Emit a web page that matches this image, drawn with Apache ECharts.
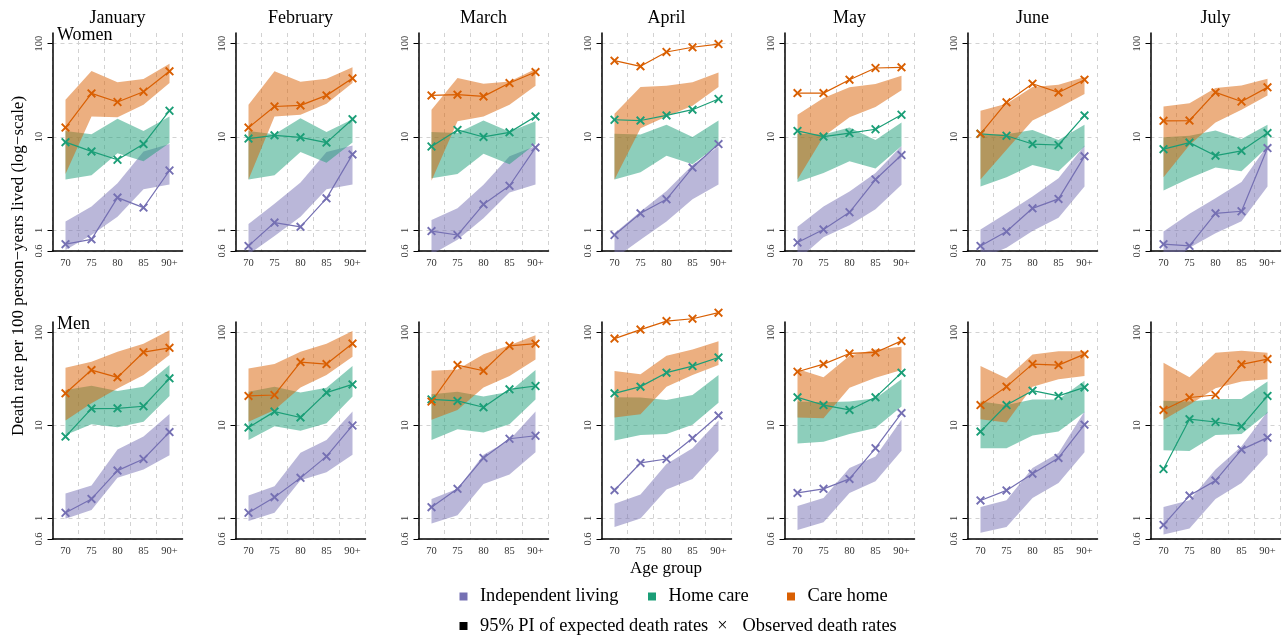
<!DOCTYPE html>
<html>
<head>
<meta charset="utf-8">
<script src="https://cdn.jsdelivr.net/npm/echarts@6/dist/echarts.min.js"></script>
<style>
html,body{margin:0;padding:0;background:#fff;}
#chart{width:1287px;height:635px;}
</style>
</head>
<body>
<div id="chart"></div>
<script>
// ---------------- DATA ----------------
const ages = ['70', '75', '80', '85', '90+'];
const months = ['January', 'February', 'March', 'April', 'May', 'June', 'July'];
const yTicks = [0.6, 1, 10, 100];
const groupNames = ['Independent living', 'Home care', 'Care home'];

// Women — Independent living
const womenIndepObs = [
  [0.71, 0.80, 2.24, 1.75, 4.37], [0.68, 1.21, 1.09, 2.2, 6.5], [0.98, 0.89, 1.9, 3.0, 7.7],
  [0.89, 1.52, 2.15, 4.7, 8.4], [0.74, 1.02, 1.56, 3.5, 6.4], [0.68, 0.97, 1.72, 2.17, 6.2],
  [0.71, 0.68, 1.52, 1.6, 7.6]];
const womenIndepLo = [
  [0.615, 0.89, 1.4, 2.75, 3.1], [0.55, 0.87, 1.4, 2.75, 3.1], [0.55, 0.79, 1.35, 2.54, 3.1],
  [0.5, 0.79, 1.24, 2.15, 3.1], [0.48, 0.84, 1.13, 1.68, 3.07], [0.5, 0.65, 0.98, 1.36, 2.94],
  [0.37, 0.65, 0.93, 1.25, 2.94]];
const womenIndepHi = [
  [1.24, 1.8, 3.2, 7.0, 8.4], [1.17, 1.92, 3.25, 6.9, 8.1], [1.29, 1.72, 3.07, 6.2, 8.0],
  [0.93, 1.59, 2.64, 5.0, 7.9], [1.09, 1.8, 2.6, 4.1, 8.0], [1.02, 1.52, 2.3, 3.6, 8.1],
  [0.97, 1.5, 2.2, 3.3, 8.1]];
// Women — Home care
const womenHomeObs = [
  [8.8, 7.0, 5.7, 8.4, 19.1], [9.6, 10.4, 9.9, 8.7, 15.5], [7.9, 11.9, 10, 11.2, 16.6],
  [15.3, 15, 17, 19.6, 25.5], [11.6, 10.1, 11, 12.1, 17.3], [10.8, 10.3, 8.4, 8.2, 17.0],
  [7.4, 8.7, 6.3, 7.1, 11.0]];
const womenHomeLo = [
  [3.5, 3.9, 6.7, 5.5, 8.6], [3.5, 3.9, 6.9, 5.3, 8.7], [3.6, 4.0, 6.6, 5.1, 8.4],
  [3.5, 4.2, 6.3, 5.1, 8.2], [3.3, 4.1, 5.5, 4.6, 8.0], [2.94, 3.7, 5.0, 4.3, 7.9],
  [2.67, 3.6, 4.7, 4.3, 7.8]];
const womenHomeHi = [
  [11.6, 10.7, 15.7, 11.6, 16.6], [11.6, 10.7, 15.9, 11.3, 15.5], [11.3, 11, 15, 11.4, 14.7],
  [10.8, 10.6, 13.5, 10, 15], [10.8, 10.6, 12.6, 9.3, 14.3], [10.6, 10.7, 11.9, 9.3, 13.5],
  [9.9, 10.3, 11.7, 9.5, 13.5]];
// Women — Care home
const womenCareObs = [
  [12.6, 29.3, 23.7, 30.5, 50.5], [12.6, 21.2, 21.8, 27.9, 42.5], [27.9, 28.4, 27.2, 37.8, 49.6],
  [65.7, 57.1, 81.4, 91.4, 99], [29.5, 29.5, 41.1, 54.8, 55.7], [10.8, 23.5, 37.2, 30.0, 41.1],
  [14.9, 15.0, 30, 24, 34]];
const womenCareLo = [
  [4.0, 16.6, 16.3, 22.1, 37.8], [3.5, 16.6, 17.3, 22.7, 37.8], [3.4, 14.7, 16.6, 22.1, 35.4],
  [3.5, 12.4, 16.6, 21.6, 34.3], [3.5, 10.1, 16.3, 20.9, 31.6], [3.5, 7.3, 15, 20.4, 28.8],
  [3.7, 8.2, 14.3, 19.6, 27.9]];
const womenCareHi = [
  [25, 51, 38.5, 41.8, 61], [22.1, 50.5, 39, 42, 56], [19.6, 42.8, 37.2, 39.4, 53.5],
  [17.7, 34.3, 35.4, 38.5, 49.2], [17.3, 26.1, 34, 36.9, 45.4], [19.1, 22.7, 34.3, 36.3, 43.9],
  [21.2, 23, 33.4, 35.7, 42]];

// Men — Independent living
const menIndepObs = [
  [1.15, 1.62, 3.27, 4.36, 8.5], [1.15, 1.69, 2.73, 4.65, 10], [1.32, 2.08, 4.47, 7.2, 7.75],
  [2.01, 3.95, 4.36, 7.3, 12.8], [1.88, 2.08, 2.66, 5.7, 13.6], [1.56, 2.0, 3.03, 4.47, 10.2],
  [0.85, 1.76, 2.55, 5.5, 7.4]];
const menIndepLo = [
  [0.99, 1.23, 2.73, 3.35, 4.77], [0.94, 1.15, 2.57, 3.14, 4.85], [0.88, 1.08, 2.35, 2.96, 5.14],
  [0.81, 1.0, 2.05, 2.66, 5.36], [0.75, 0.91, 1.88, 2.51, 5.36], [0.70, 0.81, 1.66, 2.41, 5.14],
  [0.67, 0.78, 1.62, 2.41, 4.85]];
const menIndepHi = [
  [1.85, 2.26, 5.5, 7.6, 13.3], [1.76, 2.22, 5.1, 7.0, 14.1], [1.62, 2.08, 4.85, 7.0, 14.1],
  [1.44, 1.81, 3.85, 5.7, 11.3], [1.36, 1.66, 3.49, 4.65, 11.5], [1.33, 1.57, 3.49, 5.05, 14.1],
  [1.33, 1.57, 3.35, 5.96, 14.1]];
// Men — Home care
const menHomeObs = [
  [7.6, 15.2, 15.3, 16.1, 32.2], [9.5, 14.1, 12.2, 22.6, 27.7], [19.1, 18.4, 15.7, 24.5, 26.6],
  [22.2, 26.2, 37, 43.6, 54], [20.1, 16.6, 14.7, 20.1, 37], [8.6, 16.6, 23.7, 20.8, 25.7],
  [3.4, 11.7, 10.9, 9.8, 20.8]];
const menHomeLo = [
  [7.9, 10.3, 9.6, 11, 20.8], [7.0, 9.8, 8.8, 10.6, 20.5], [7.0, 9.1, 8.4, 10.3, 19.1],
  [6.9, 7.9, 8.1, 10.2, 17.6], [6.4, 6.7, 8.1, 9.4, 16.0], [5.7, 5.7, 7.8, 8.6, 13.9],
  [5.4, 5.3, 7.9, 8.1, 13.6]];
const menHomeHi = [
  [24.1, 26.8, 23.5, 26.2, 44.7], [23.1, 26.2, 22.6, 25.5, 43.6], [21.7, 23.1, 20.5, 23.1, 39.5],
  [20.1, 20, 18.8, 21.3, 34.9], [18.1, 17.8, 18.1, 19.6, 31.4], [18.1, 16.6, 19.1, 19.1, 30.4],
  [18.5, 18.1, 19.3, 19.3, 29.7]];
// Men — Care home
const menCareObs = [
  [22.2, 39.5, 33, 61.5, 68.5], [20.8, 21.3, 48.1, 45.8, 76.2], [18.1, 44.7, 38.8, 72, 76],
  [86.2, 107.7, 133, 141, 164], [37.9, 45.8, 59.6, 61.1, 81.4], [16.6, 26.2, 45.8, 44.7, 58.6],
  [14.7, 20, 21.3, 45.5, 51.9]];
const menCareLo = [
  [11.3, 17.4, 25, 34.9, 57.2], [11, 14.7, 25.7, 34.9, 54.8], [11.5, 14.7, 25.7, 34, 51.4],
  [12.2, 13.2, 26.2, 34.9, 44.7], [12.2, 12, 25.5, 32.7, 39.5], [11.7, 10.8, 26.2, 31.4, 34],
  [11.5, 16.7, 25.2, 29.7, 31.4]];
const menCareHi = [
  [41.8, 48.5, 62, 76, 106], [41.1, 45.8, 62, 76, 104], [38.8, 40.1, 58.6, 73, 93.6],
  [38.5, 35.5, 56.2, 65.7, 80.7], [40.5, 33, 56.2, 65.7, 70.2], [43.6, 32.2, 58.1, 63.1, 63.1],
  [47.3, 33, 60.5, 63.7, 60.5]];

// ---------------- STYLE ----------------
const FONT = '"Liberation Serif", "Times New Roman", serif';
const lineColors = ['#7570B3', '#1B9E77', '#D95F02'];
const bandColors = ['rgba(117,112,179,0.5)', 'rgba(27,158,119,0.5)', 'rgba(217,95,2,0.5)'];
const XMARK = 'path://M0,1.5L1.5,0L5,3.5L8.5,0L10,1.5L6.5,5L10,8.5L8.5,10L5,6.5L1.5,10L0,8.5L3.5,5Z';
const tickColor = '#333';
const gridLine = { show: true, lineStyle: { type: [4, 4], color: '#d2d2d2', width: 1 } };

const sexes = [
  { obs: [womenIndepObs, womenHomeObs, womenCareObs], lo: [womenIndepLo, womenHomeLo, womenCareLo], hi: [womenIndepHi, womenHomeHi, womenCareHi] },
  { obs: [menIndepObs, menHomeObs, menCareObs], lo: [menIndepLo, menHomeLo, menCareLo], hi: [menIndepHi, menHomeHi, menCareHi] }
];

const grids = [], xAxes = [], yAxes = [], series = [], graphics = [];
for (let s = 0; s < 2; s++) {
  for (let m = 0; m < 7; m++) {
    const g = s * 7 + m;
    const left = 52.5 + 183 * m;
    grids.push({ left: left, top: s ? 322 : 33, width: 130, height: s ? 217 : 218 });
    xAxes.push({
      type: 'category', gridIndex: g, data: ages, boundaryGap: true,
      axisLine: { onZero: false, lineStyle: { color: '#000', width: 1.5 } },
      axisTick: { length: 5, interval: 0, lineStyle: { color: '#000', width: 1 } },
      axisLabel: { interval: 0, fontSize: 10.5, margin: 7, color: tickColor, fontFamily: FONT },
      splitLine: Object.assign({ interval: 0 }, gridLine)
    });
    yAxes.push({
      type: 'log', logBase: 10, gridIndex: g, min: 0.6, max: 130,
      axisLine: { show: true, lineStyle: { color: '#000', width: 1.5 } },
      axisTick: { show: true, length: 5, customValues: yTicks, lineStyle: { color: '#000', width: 1 } },
      axisLabel: {
        customValues: yTicks, rotate: 90, fontSize: 10.5, margin: 8, color: tickColor, fontFamily: FONT,
        formatter: v => String(Math.round(v * 10) / 10)
      },
      splitLine: gridLine
    });
    for (let k = 0; k < 3; k++) {
      const lo = sexes[s].lo[k][m], hi = sexes[s].hi[k][m], obs = sexes[s].obs[k][m];
      const stackId = 'band' + g + '_' + k;
      series.push({
        type: 'line', name: groupNames[k], xAxisIndex: g, yAxisIndex: g, data: lo, stack: stackId,
        symbol: 'none', silent: true, lineStyle: { opacity: 0 }, animation: false
      });
      series.push({
        type: 'line', name: groupNames[k], xAxisIndex: g, yAxisIndex: g,
        data: hi.map((h, i) => +(h - lo[i]).toFixed(4)), stack: stackId,
        symbol: 'none', silent: true, lineStyle: { opacity: 0 },
        areaStyle: { color: bandColors[k], opacity: 1 }, animation: false
      });
      series.push({
        type: 'line', name: groupNames[k], xAxisIndex: g, yAxisIndex: g, data: obs, clip: false,
        symbol: XMARK, symbolSize: 9, showAllSymbol: true,
        lineStyle: { color: lineColors[k], width: 1.2 },
        itemStyle: { color: lineColors[k] }, animation: false
      });
    }
    if (s === 0) {
      graphics.push({ type: 'text', x: left + 65, y: 18, style: { text: months[m], font: '18px ' + FONT, fill: '#000', textAlign: 'center', textVerticalAlign: 'middle' } });
    }
  }
}

graphics.push({ type: 'text', x: 57, y: 35, style: { text: 'Women', font: '18px ' + FONT, fill: '#000', textAlign: 'left', textVerticalAlign: 'middle' } });
graphics.push({ type: 'text', x: 57, y: 324, style: { text: 'Men', font: '18px ' + FONT, fill: '#000', textAlign: 'left', textVerticalAlign: 'middle' } });
graphics.push({ type: 'text', x: 19, y: 266, rotation: Math.PI / 2, style: { text: 'Death rate per 100 person\u2212years lived (log\u2212scale)', font: '17px ' + FONT, fill: '#000', textAlign: 'center', textVerticalAlign: 'middle' } });
graphics.push({ type: 'text', x: 666, y: 569, style: { text: 'Age group', font: '17px ' + FONT, fill: '#000', textAlign: 'center', textVerticalAlign: 'middle' } });

// legend row 1
const legendX = [459.5, 648, 787];
for (let k = 0; k < 3; k++) {
  graphics.push({ type: 'rect', shape: { x: legendX[k], y: 592.5, width: 8, height: 8 }, style: { fill: lineColors[k] } });
  graphics.push({ type: 'text', x: legendX[k] + 20.5, y: 596.5, style: { text: groupNames[k], font: '18.4px ' + FONT, fill: '#000', textAlign: 'left', textVerticalAlign: 'middle' } });
}
// legend row 2
graphics.push({ type: 'rect', shape: { x: 459.5, y: 622, width: 8, height: 8 }, style: { fill: '#000' } });
graphics.push({ type: 'text', x: 480, y: 626, style: { text: '95% PI of expected death rates', font: '18.4px ' + FONT, fill: '#000', textAlign: 'left', textVerticalAlign: 'middle' } });
graphics.push({ type: 'text', x: 722.5, y: 626, style: { text: '\u00d7', font: '18.4px ' + FONT, fill: '#000', textAlign: 'center', textVerticalAlign: 'middle' } });
graphics.push({ type: 'text', x: 742.5, y: 626, style: { text: 'Observed death rates', font: '18.4px ' + FONT, fill: '#000', textAlign: 'left', textVerticalAlign: 'middle' } });

const chart = echarts.init(document.getElementById('chart'), null, { renderer: 'canvas' });
chart.setOption({
  backgroundColor: '#fff',
  animation: false,
  grid: grids,
  xAxis: xAxes,
  yAxis: yAxes,
  series: series,
  graphic: graphics
});
</script>
</body>
</html>
